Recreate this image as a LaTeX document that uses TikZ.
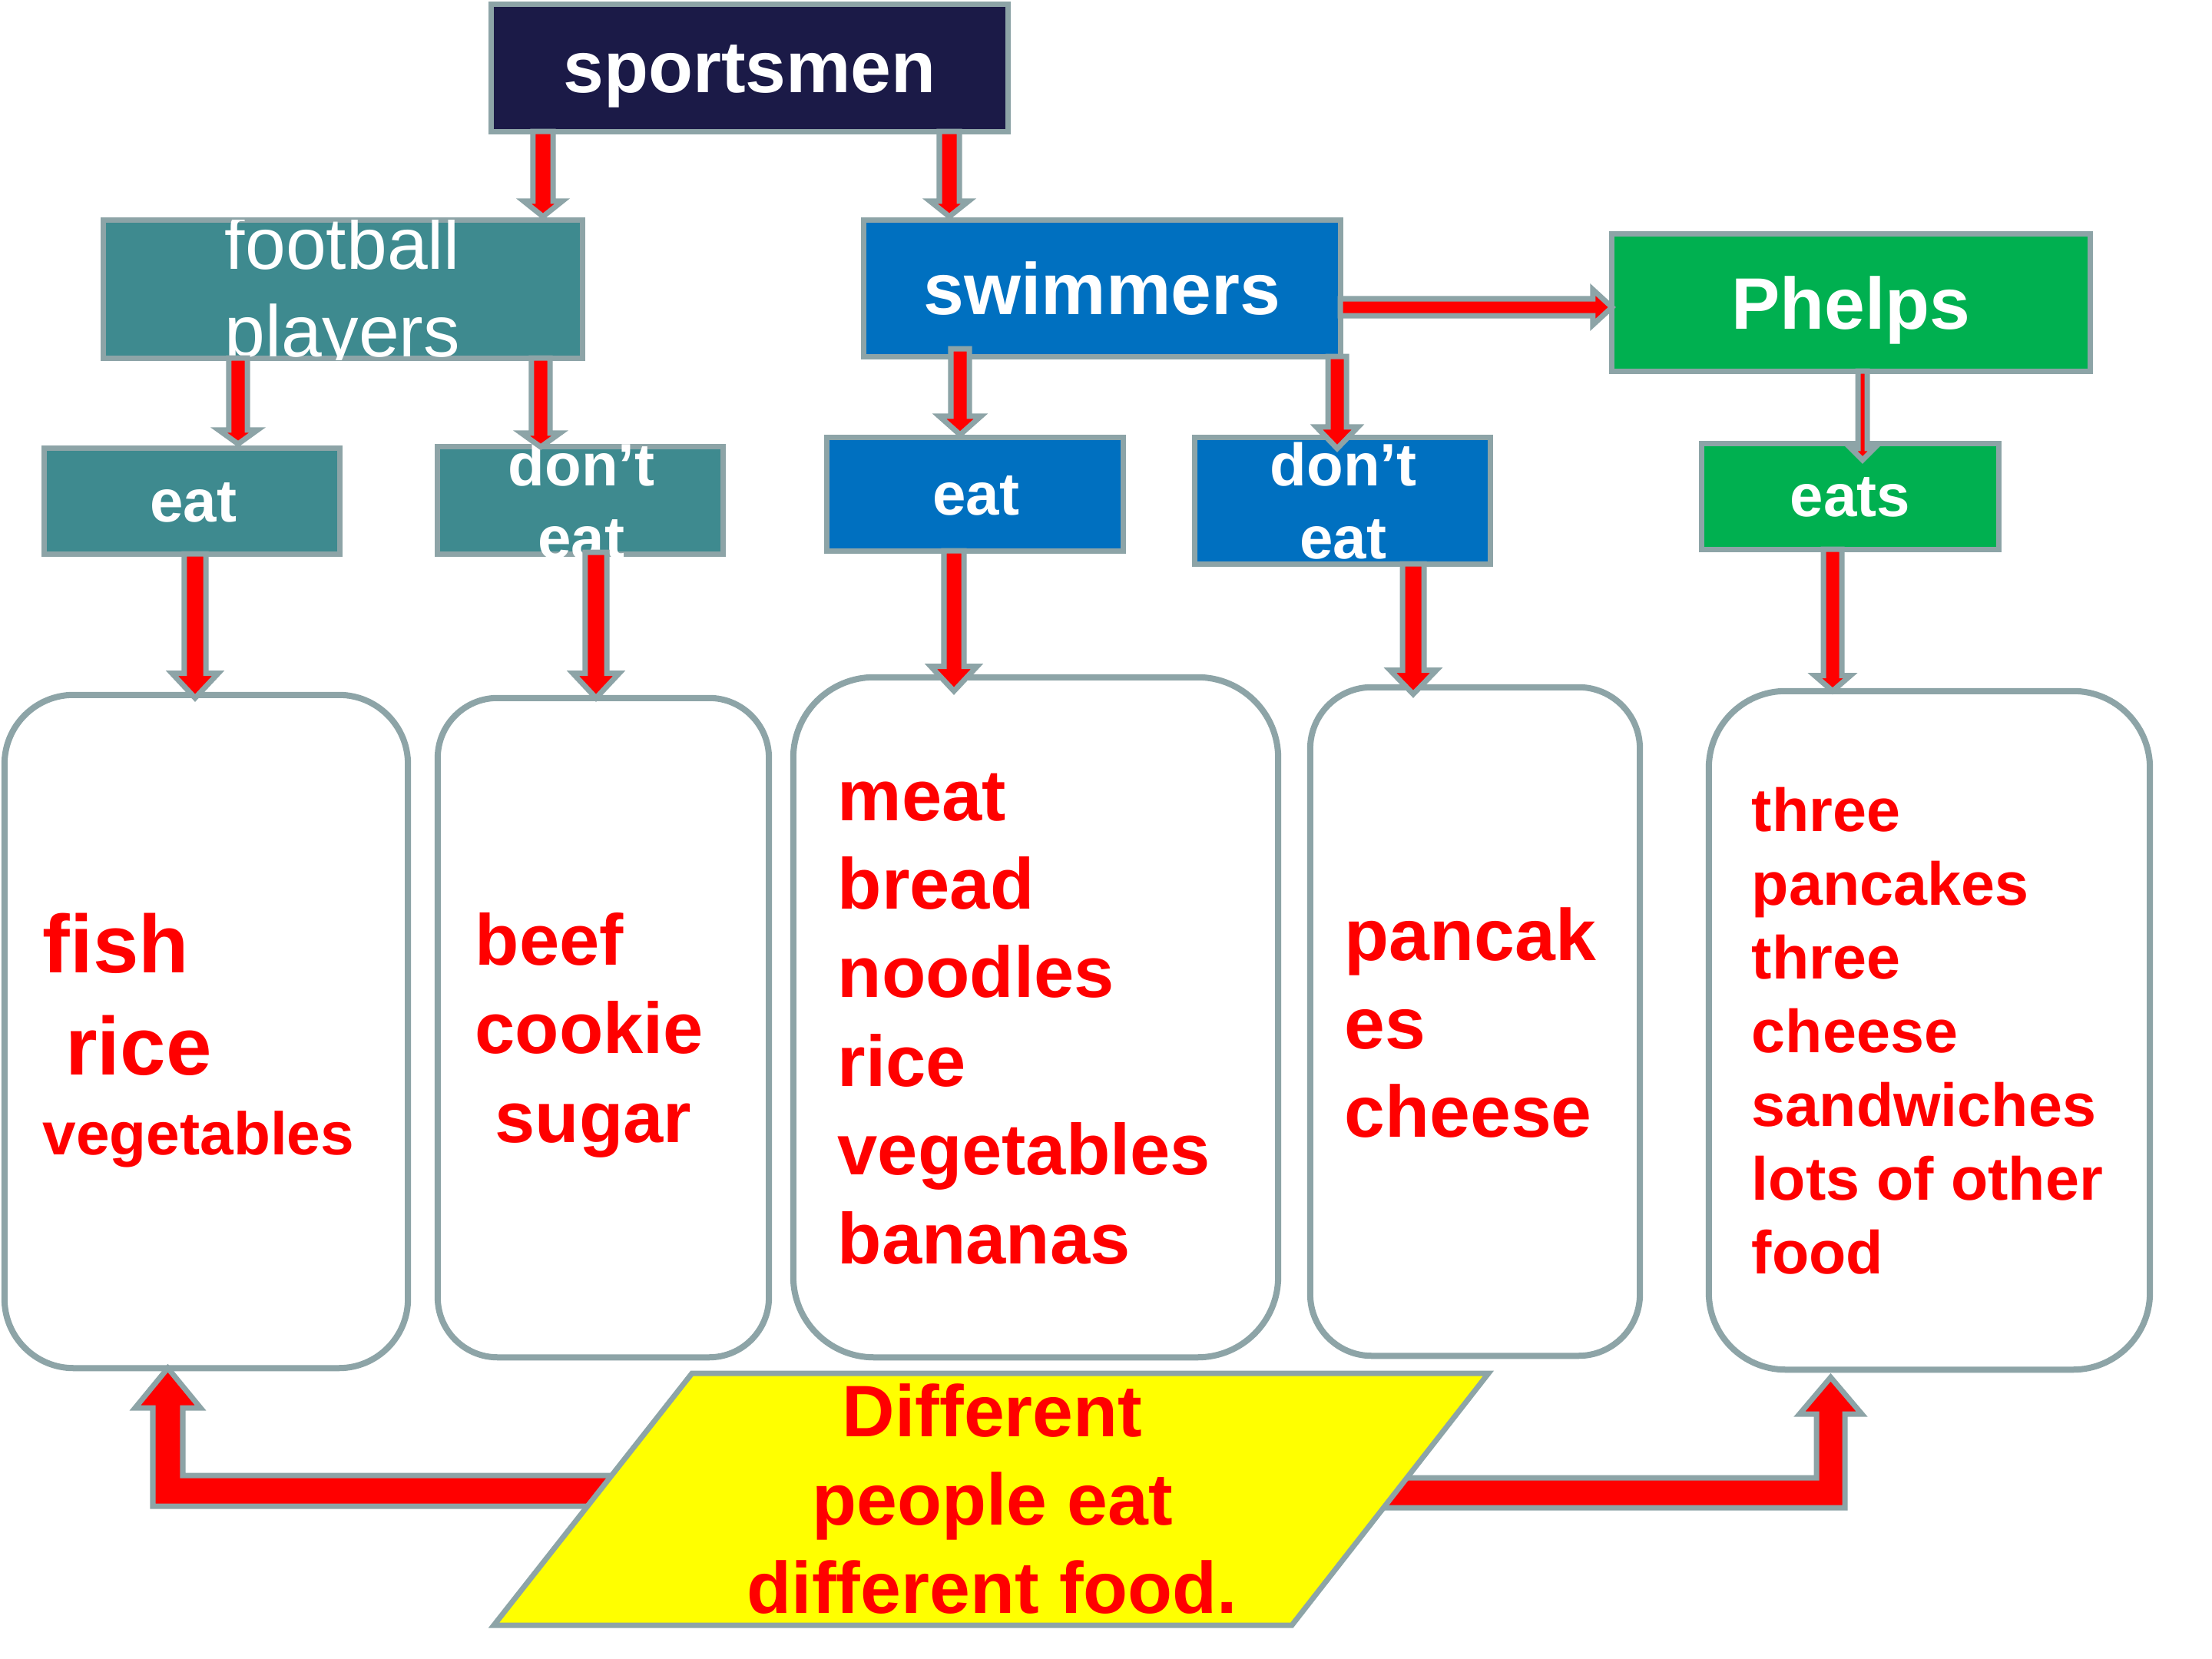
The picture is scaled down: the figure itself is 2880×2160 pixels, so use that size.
\documentclass[tikz,border=0pt]{standalone}
\usepackage{fontspec}
\setmainfont{Liberation Sans}
\usetikzlibrary{calc}
\definecolor{edge}{RGB}{141,164,167}
\definecolor{navy}{RGB}{27,26,71}
\definecolor{tealbox}{RGB}{62,138,143}
\definecolor{bluebox}{RGB}{0,112,192}
\definecolor{greenbox}{RGB}{0,176,80}
\definecolor{redtxt}{RGB}{255,0,0}
\definecolor{yellowbox}{RGB}{255,255,0}
\newcommand{\blockarrow}[5]{%
  \coordinate (bS) at (#1);
  \coordinate (bT) at (#2);
  \coordinate (bH) at ($(bT)!#5!(bS)$);
  \draw[arrowline] ($(bS)!#3!90:(bT)$) -- ($(bH)!#3!90:(bT)$) -- ($(bH)!#4!90:(bT)$) -- (bT)
    -- ($(bH)!#4!-90:(bT)$) -- ($(bH)!#3!-90:(bT)$) -- ($(bS)!#3!-90:(bT)$) -- cycle;}
\newcommand{\cl}[1]{\hbox to 7cm{\hfil #1\hfil}}
\begin{document}
\begin{tikzpicture}[x=0.01cm,y=-0.01cm,
  box/.style={draw=edge, line width=0.7mm, inner sep=0pt, outer sep=0pt, rectangle},
  foodbox/.style={draw=edge, line width=0.8mm, fill=white, inner sep=0pt, outer sep=0pt, rectangle},
  lblbig/.style={text=white, font=\fontsize{27pt}{32pt}\selectfont\bfseries, inner sep=0pt, anchor=base},
  lblsmall/.style={text=white, font=\fontsize{22.2pt}{9.5mm}\selectfont\bfseries, inner sep=0pt, anchor=base},
  foodtxt/.style={text=redtxt, inner sep=0pt, anchor=base west},
  arrowline/.style={draw=edge, fill=redtxt, line width=0.7mm}]
\useasboundingbox (0,0) rectangle (2880,2160);
\fill[white] (0,0) rectangle (2880,2160);

% top level boxes
\node[box, fill=navy, minimum width=6.72cm, minimum height=1.65cm] (sp) at (976,88.5) {};
\node[box, fill=tealbox, minimum width=6.23cm, minimum height=1.79cm] (fb) at (446.5,376.5) {};
\node[box, fill=bluebox, minimum width=6.20cm, minimum height=1.77cm] (sw) at (1435,375.5) {};
\node[box, fill=greenbox, minimum width=6.22cm, minimum height=1.78cm] (ph) at (2410,394) {};
% second level
\node[box, fill=tealbox, minimum width=3.84cm, minimum height=1.37cm] (fe) at (250,652.5) {};
\node[box, fill=tealbox, minimum width=3.71cm, minimum height=1.39cm] (fd) at (755.5,651.5) {};
\node[box, fill=bluebox, minimum width=3.85cm, minimum height=1.47cm] (se) at (1269.5,643.5) {};
\node[box, fill=bluebox, minimum width=3.84cm, minimum height=1.64cm] (sd) at (1748,652) {};
\node[box, fill=greenbox, minimum width=3.86cm, minimum height=1.37cm] (pe) at (2409,646.5) {};
% food boxes
\node[foodbox, rounded corners=0.9cm, minimum width=5.25cm, minimum height=8.76cm] (b1) at (268.5,1343) {};
\node[foodbox, rounded corners=0.78cm, minimum width=4.31cm, minimum height=8.58cm] (b2) at (785.5,1338) {};
\node[foodbox, rounded corners=1.05cm, minimum width=6.31cm, minimum height=8.85cm] (b3) at (1348.5,1324.5) {};
\node[foodbox, rounded corners=0.8cm, minimum width=4.29cm, minimum height=8.70cm] (b4) at (1920.5,1330) {};
\node[foodbox, rounded corners=1.0cm, minimum width=5.74cm, minimum height=8.83cm] (b5) at (2512,1341.5) {};

% labels
\node[lblbig] (spT) at (976,120) {sportsmen};
\begin{scope}
\clip (fb.north west) rectangle ($(fb.south east)+(0,2)$);
\node[lblbig, font=\fontsize{27pt}{11.4mm}\selectfont] (fbT) at (446,350) {\vtop{\cl{football}\cl{players}}};
\end{scope}
\node[lblbig] (swT) at (1435,409) {swimmers};
\node[lblbig] (phT) at (2410,428) {Phelps};
\node[lblsmall] (feT) at (252,679) {eat};
\node[lblsmall] (fdT) at (757,632) {\vtop{\cl{don’t}\cl{eat}}};
\node[lblsmall] (seT) at (1271,670) {eat};
\node[lblsmall] (sdT) at (1749,632) {\vtop{\cl{don’t}\cl{eat}}};
\node[lblsmall] (peT) at (2409,672) {eats};

% food texts
\node[foodtxt, font=\fontsize{30.4pt}{13.3mm}\selectfont\bfseries] (t1) at (55,1266)
  {\vtop{\hbox{fish}\hbox{\ rice}\baselineskip=10.4mm\hbox{\fontsize{22.3pt}{10.4mm}\selectfont vegetables}}};
\node[foodtxt, font=\fontsize{26.7pt}{11.55mm}\selectfont\bfseries] (t2) at (618,1256)
  {\vtop{\hbox{beef}\hbox{cookie}\hbox{\ sugar}}};
\node[foodtxt, font=\fontsize{26.7pt}{11.54mm}\selectfont\bfseries] (t3) at (1090,1068)
  {\vtop{\hbox{meat}\hbox{bread}\hbox{noodles}\hbox{rice}\hbox{vegetables}\hbox{bananas}}};
\node[foodtxt, font=\fontsize{27pt}{11.5mm}\selectfont\bfseries] (t4) at (1750,1250)
  {\vtop{\hbox{pancak}\hbox{es}\hbox{cheese}}};
\node[foodtxt, font=\fontsize{22.5pt}{9.6mm}\selectfont\bfseries] (t5) at (2280,1082)
  {\vtop{\hbox{three}\hbox{pancakes}\hbox{three}\hbox{cheese}\hbox{sandwiches}\hbox{lots of other}\hbox{food}}};

% connectors
\blockarrow{707,0 |- sp.south}{$(707,0 |- fb.north)+(0,-5)$}{1.3mm}{2.5mm}{2mm}
\blockarrow{1236,0 |- sp.south}{$(1236,0 |- sw.north)+(0,-5)$}{1.3mm}{2.5mm}{2mm}
\blockarrow{310,0 |- fb.south}{$(310,0 |- fe.north)+(0,-6)$}{1.2mm}{2.5mm}{1.8mm}
\blockarrow{704,0 |- fb.south}{704,0 |- fd.north}{1.2mm}{2.5mm}{1.8mm}
\blockarrow{254,0 |- fe.south}{$(254,0 |- b1.north)+(0,4)$}{1.4mm}{3mm}{3.2mm}
\blockarrow{$(776,0 |- fd.south)+(0,-2)$}{776,0 |- b2.north}{1.4mm}{3mm}{3.2mm}
\blockarrow{$(1250,0 |- sw.south)+(0,-10)$}{$(1250,0 |- se.north)+(0,-4)$}{1.2mm}{2.7mm}{2.4mm}
\blockarrow{1741,0 |- sw.south}{$(1741,0 |- sd.north)+(0,14)$}{1.2mm}{2.7mm}{2.8mm}
\blockarrow{1242,0 |- se.south}{$(1242,0 |- b3.north)+(0,18)$}{1.3mm}{3mm}{3.2mm}
\blockarrow{1840,0 |- sd.south}{$(1840,0 |- b4.north)+(0,9)$}{1.4mm}{3mm}{3.1mm}
\blockarrow{0,400 -| sw.east}{0,400 -| ph.west}{1.1mm}{2.3mm}{2.5mm}
\blockarrow{2425,0 |- ph.south}{$(2425,0 |- pe.north)+(0,21)$}{0.6mm}{1.5mm}{1.5mm}
\blockarrow{2386,0 |- pe.south}{2386,0 |- b5.north}{1.2mm}{2.3mm}{2mm}

% bent arrows from the message to the outer boxes
\coordinate (mL) at (1000,1941);
\coordinate (mR) at (1700,1943);
\draw[arrowline] (mL |- 0,1961) -- (199,1961) -- (199,1833) -- (176,1833) -- (218.5,1792 |- b1.south)
  -- (261,1833) -- (238,1833) -- (238,1921) -- (mL |- 0,1921) -- cycle;
\draw[arrowline] (mR |- 0,1924) -- (2365,1924) -- (2365,1841) -- (2343,1841) -- ($(2383.5,0 |- b5.south)+(0,10)$)
  -- (2424,1841) -- (2402,1841) -- (2402,1963) -- (mR |- 0,1963) -- cycle;

% message
\draw[draw=edge, line width=0.7mm, fill=yellowbox] (901,1788) -- (1938,1788) -- (1682,2116) -- (643,2116) -- cycle;
\node[foodtxt, anchor=base, font=\fontsize{27pt}{11.5mm}\selectfont\bfseries] (msg) at (1292,1870)
  {\vtop{\cl{Different}\cl{people eat}\cl{different food.}}};
\end{tikzpicture}
\end{document}
